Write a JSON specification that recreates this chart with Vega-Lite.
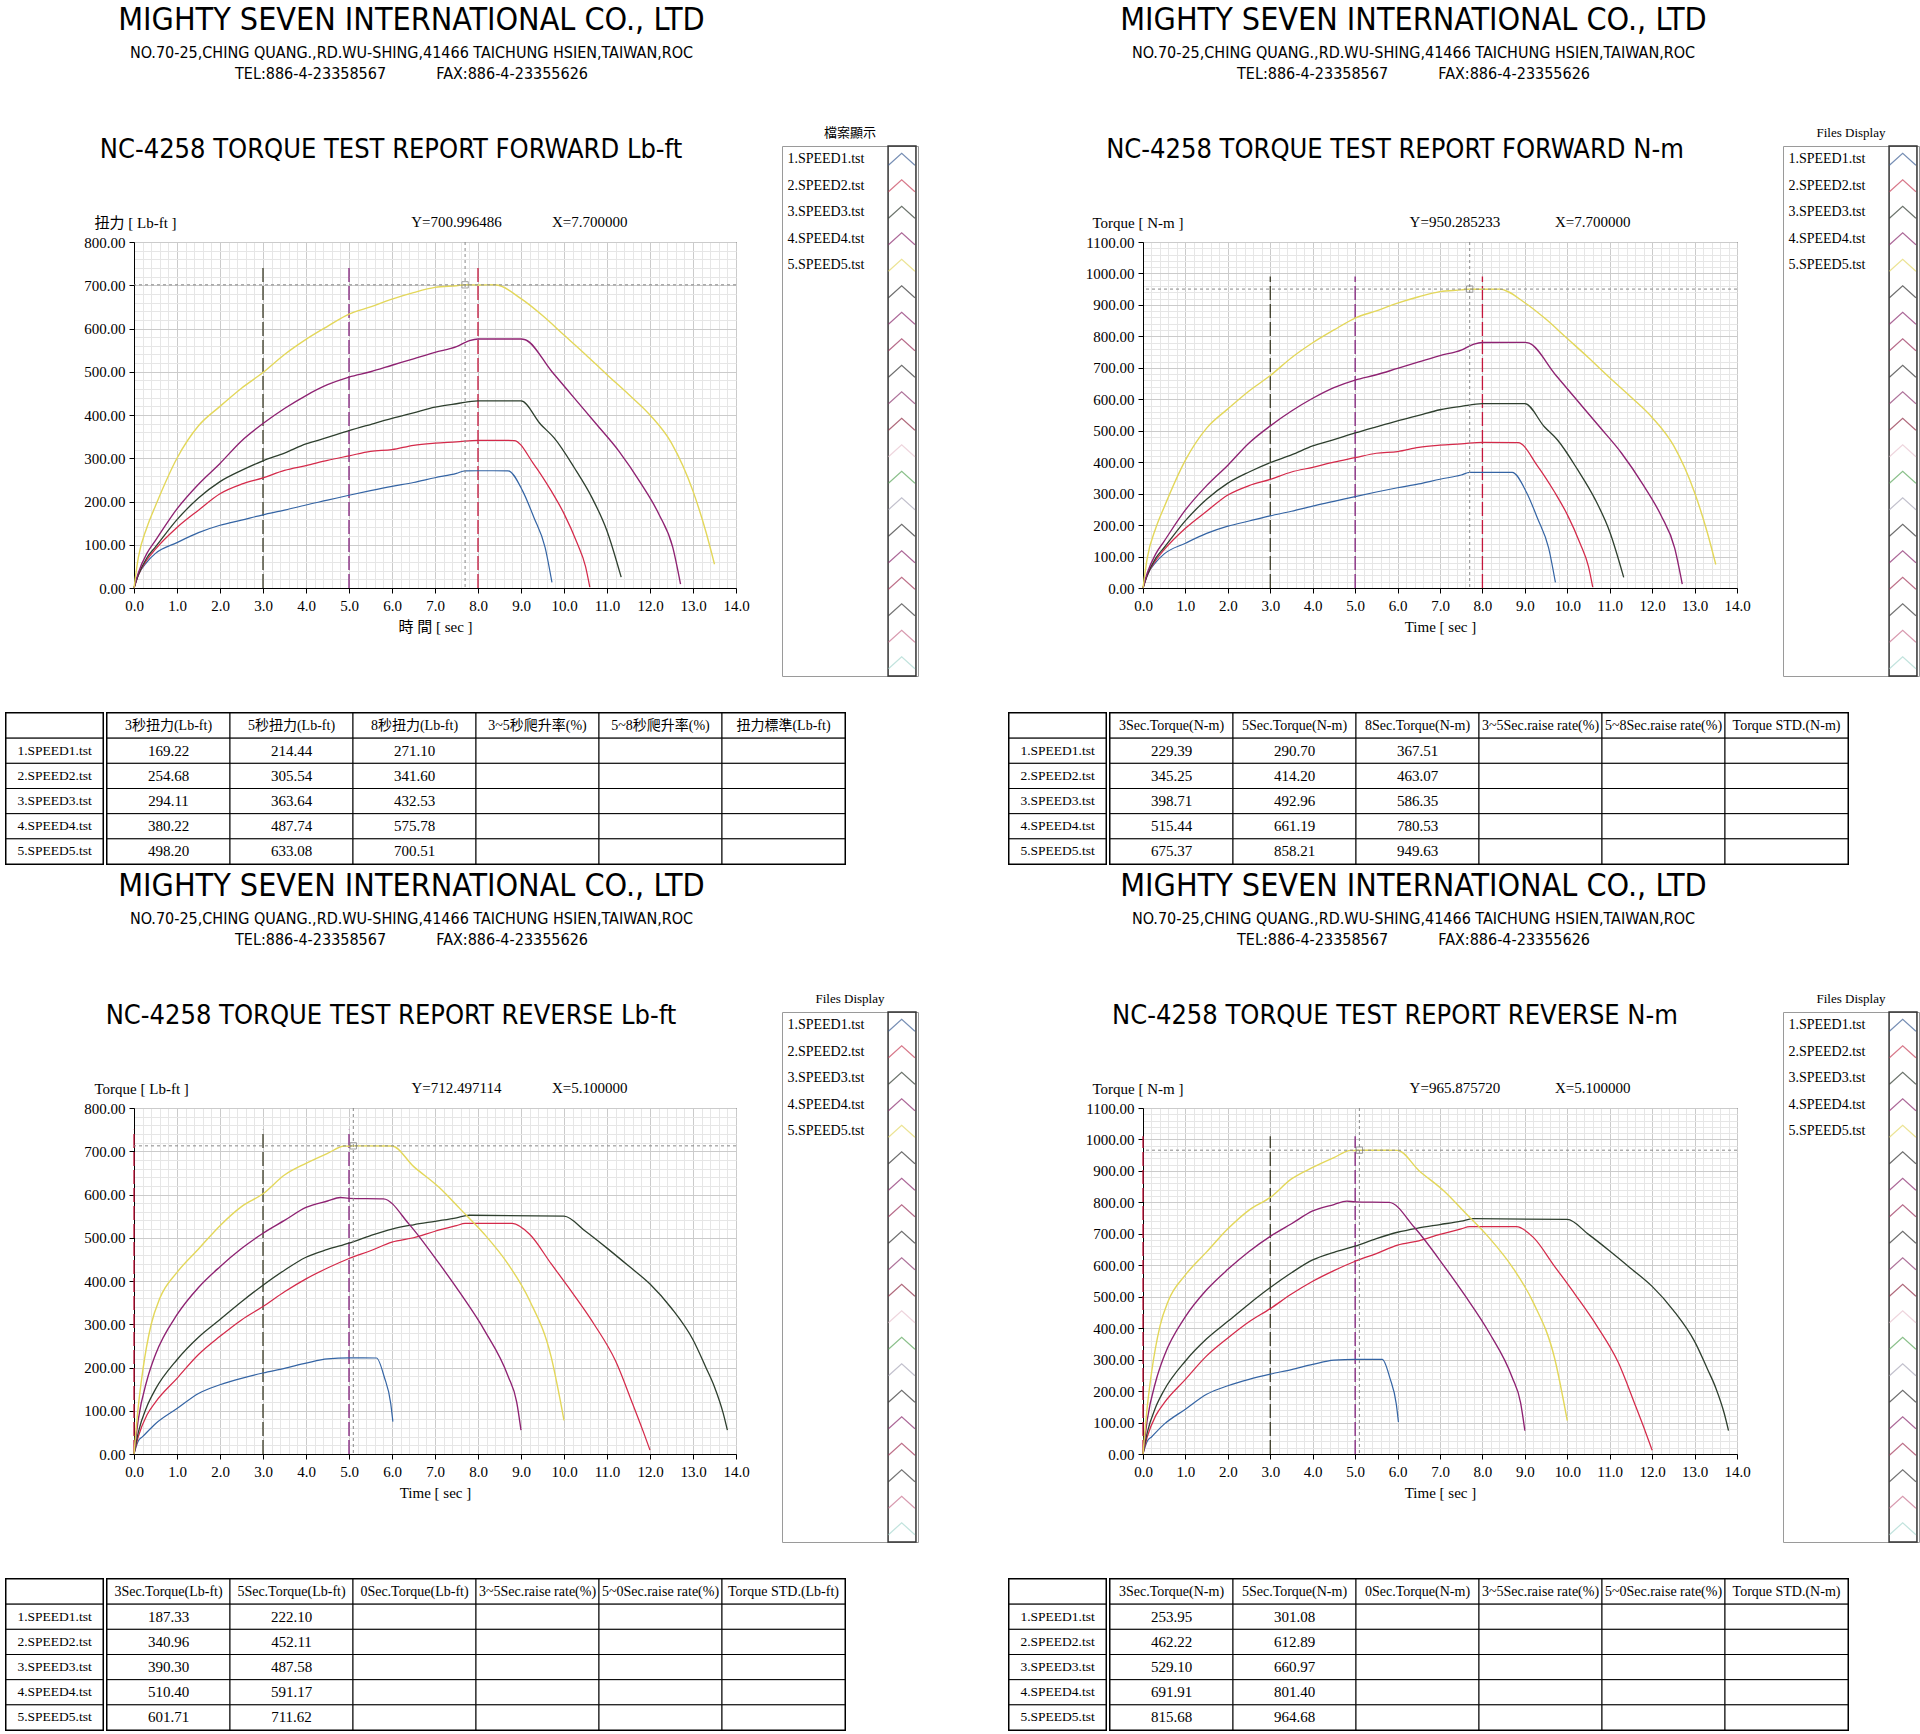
{
"$schema": "https://vega.github.io/schema/vega-lite/v6.json",
"background": "white",
"padding": {"left": 4, "top": 3, "right": 0, "bottom": 0},
"config": {
 "view": {"stroke": "#000", "strokeWidth": 1},
 "font": "Liberation Sans Narrow, DejaVu Sans Condensed, Liberation Sans, sans-serif",
 "axis": {"labelFont": "Liberation Serif", "titleFont": "Liberation Serif, Noto Sans CJK TC, serif", "labelColor": "#000", "titleColor": "#000", "domainColor": "#000", "tickColor": "#000", "titleFontWeight": "normal", "labelFlush": false, "labelOverlap": false},
 "title": {"color": "#000", "subtitleColor": "#000", "fontWeight": "normal"}
},
"datasets": {
 "fl": [
  {"s":"1","t":0,"v":0},{"s":"1","t":0.1,"v":30},{"s":"1","t":0.3,"v":60},{"s":"1","t":0.5,"v":80},{"s":"1","t":1,"v":105},{"s":"1","t":1.5,"v":128},{"s":"1","t":2,"v":145},{"s":"1","t":2.5,"v":157},{"s":"1","t":3,"v":169.22},{"s":"1","t":3.5,"v":180},{"s":"1","t":4,"v":192},{"s":"1","t":4.5,"v":203},{"s":"1","t":5,"v":214.44},{"s":"1","t":5.5,"v":225},{"s":"1","t":6,"v":235},{"s":"1","t":6.5,"v":244},{"s":"1","t":7,"v":255},{"s":"1","t":7.5,"v":265},{"s":"1","t":7.7,"v":271},{"s":"1","t":8,"v":271.1},{"s":"1","t":8.7,"v":271},{"s":"1","t":9.04,"v":224},{"s":"1","t":9.3,"v":163},{"s":"1","t":9.56,"v":94},{"s":"1","t":9.72,"v":13},
  {"s":"2","t":0,"v":0},{"s":"2","t":0.1,"v":30},{"s":"2","t":0.3,"v":65},{"s":"2","t":0.5,"v":90},{"s":"2","t":1,"v":140},{"s":"2","t":1.5,"v":180},{"s":"2","t":2,"v":218},{"s":"2","t":2.5,"v":240},{"s":"2","t":3,"v":254.68},{"s":"2","t":3.5,"v":272},{"s":"2","t":4,"v":283},{"s":"2","t":4.5,"v":295},{"s":"2","t":5,"v":305.54},{"s":"2","t":5.5,"v":316},{"s":"2","t":6,"v":320},{"s":"2","t":6.5,"v":330},{"s":"2","t":7,"v":335},{"s":"2","t":7.5,"v":338},{"s":"2","t":8,"v":341.6},{"s":"2","t":8.84,"v":341},{"s":"2","t":9.3,"v":286},{"s":"2","t":9.7,"v":225},{"s":"2","t":10,"v":172},{"s":"2","t":10.3,"v":105},{"s":"2","t":10.5,"v":50},{"s":"2","t":10.6,"v":2},
  {"s":"3","t":0,"v":0},{"s":"3","t":0.1,"v":30},{"s":"3","t":0.3,"v":70},{"s":"3","t":0.5,"v":95},{"s":"3","t":1,"v":158},{"s":"3","t":1.5,"v":208},{"s":"3","t":2,"v":246},{"s":"3","t":2.5,"v":272},{"s":"3","t":3,"v":294.11},{"s":"3","t":3.5,"v":312},{"s":"3","t":4,"v":333},{"s":"3","t":4.5,"v":348},{"s":"3","t":5,"v":363.64},{"s":"3","t":5.5,"v":378},{"s":"3","t":6,"v":392},{"s":"3","t":6.5,"v":405},{"s":"3","t":7,"v":418},{"s":"3","t":7.5,"v":426},{"s":"3","t":8,"v":432.53},{"s":"3","t":9,"v":432.5},{"s":"3","t":9.46,"v":378},{"s":"3","t":9.77,"v":347},{"s":"3","t":10.24,"v":278},{"s":"3","t":10.65,"v":209},{"s":"3","t":11,"v":132},{"s":"3","t":11.33,"v":25},
  {"s":"4","t":0,"v":0},{"s":"4","t":0.1,"v":35},{"s":"4","t":0.3,"v":80},{"s":"4","t":0.5,"v":110},{"s":"4","t":1,"v":183},{"s":"4","t":1.5,"v":240},{"s":"4","t":2,"v":288},{"s":"4","t":2.5,"v":340},{"s":"4","t":3,"v":380.22},{"s":"4","t":3.5,"v":415},{"s":"4","t":4,"v":445},{"s":"4","t":4.5,"v":470},{"s":"4","t":5,"v":487.74},{"s":"4","t":5.5,"v":500},{"s":"4","t":6,"v":515},{"s":"4","t":6.5,"v":530},{"s":"4","t":7,"v":545},{"s":"4","t":7.5,"v":558},{"s":"4","t":7.8,"v":572},{"s":"4","t":8,"v":575.78},{"s":"4","t":9,"v":575.8},{"s":"4","t":9.1,"v":574},{"s":"4","t":9.72,"v":500},{"s":"4","t":10.24,"v":439},{"s":"4","t":10.76,"v":378},{"s":"4","t":11.28,"v":316},{"s":"4","t":11.8,"v":240},{"s":"4","t":12.21,"v":170},{"s":"4","t":12.53,"v":94},{"s":"4","t":12.71,"v":9},
  {"s":"5","t":0,"v":0},{"s":"5","t":0.1,"v":70},{"s":"5","t":0.3,"v":140},{"s":"5","t":0.5,"v":190},{"s":"5","t":1,"v":300},{"s":"5","t":1.5,"v":375},{"s":"5","t":2,"v":420},{"s":"5","t":2.5,"v":462},{"s":"5","t":3,"v":498.2},{"s":"5","t":3.5,"v":540},{"s":"5","t":4,"v":575},{"s":"5","t":4.5,"v":605},{"s":"5","t":5,"v":633.08},{"s":"5","t":5.5,"v":650},{"s":"5","t":6,"v":668},{"s":"5","t":6.5,"v":683},{"s":"5","t":7,"v":695},{"s":"5","t":7.5,"v":699},{"s":"5","t":7.7,"v":701},{"s":"5","t":8,"v":700.51},{"s":"5","t":8.4,"v":701},{"s":"5","t":9,"v":669},{"s":"5","t":9.5,"v":630},{"s":"5","t":10,"v":585},{"s":"5","t":10.5,"v":540},{"s":"5","t":11,"v":493},{"s":"5","t":11.5,"v":448},{"s":"5","t":12,"v":400},{"s":"5","t":12.5,"v":335},{"s":"5","t":13,"v":224},{"s":"5","t":13.3,"v":130},{"s":"5","t":13.5,"v":55}
 ],
 "fn": [
  {"s":"1","t":0,"v":0},{"s":"1","t":0.1,"v":40.7},{"s":"1","t":0.3,"v":81.3},{"s":"1","t":0.5,"v":108.5},{"s":"1","t":1,"v":142.4},{"s":"1","t":1.5,"v":173.5},{"s":"1","t":2,"v":196.6},{"s":"1","t":2.5,"v":212.9},{"s":"1","t":3,"v":229.39},{"s":"1","t":3.5,"v":244},{"s":"1","t":4,"v":260.3},{"s":"1","t":4.5,"v":275.2},{"s":"1","t":5,"v":290.7},{"s":"1","t":5.5,"v":305.1},{"s":"1","t":6,"v":318.6},{"s":"1","t":6.5,"v":330.8},{"s":"1","t":7,"v":345.7},{"s":"1","t":7.5,"v":359.3},{"s":"1","t":7.7,"v":367.4},{"s":"1","t":8,"v":367.51},{"s":"1","t":8.7,"v":367.4},{"s":"1","t":9.04,"v":303.7},{"s":"1","t":9.3,"v":221},{"s":"1","t":9.56,"v":127.4},{"s":"1","t":9.72,"v":17.6},
  {"s":"2","t":0,"v":0},{"s":"2","t":0.1,"v":40.7},{"s":"2","t":0.3,"v":88.1},{"s":"2","t":0.5,"v":122},{"s":"2","t":1,"v":189.8},{"s":"2","t":1.5,"v":244},{"s":"2","t":2,"v":295.6},{"s":"2","t":2.5,"v":325.4},{"s":"2","t":3,"v":345.25},{"s":"2","t":3.5,"v":368.8},{"s":"2","t":4,"v":383.7},{"s":"2","t":4.5,"v":400},{"s":"2","t":5,"v":414.2},{"s":"2","t":5.5,"v":428.4},{"s":"2","t":6,"v":433.9},{"s":"2","t":6.5,"v":447.4},{"s":"2","t":7,"v":454.2},{"s":"2","t":7.5,"v":458.3},{"s":"2","t":8,"v":463.07},{"s":"2","t":8.84,"v":462.3},{"s":"2","t":9.3,"v":387.8},{"s":"2","t":9.7,"v":305.1},{"s":"2","t":10,"v":233.2},{"s":"2","t":10.3,"v":142.4},{"s":"2","t":10.5,"v":67.8},{"s":"2","t":10.6,"v":2.7},
  {"s":"3","t":0,"v":0},{"s":"3","t":0.1,"v":40.7},{"s":"3","t":0.3,"v":94.9},{"s":"3","t":0.5,"v":128.8},{"s":"3","t":1,"v":214.2},{"s":"3","t":1.5,"v":282},{"s":"3","t":2,"v":333.5},{"s":"3","t":2.5,"v":368.8},{"s":"3","t":3,"v":398.71},{"s":"3","t":3.5,"v":423},{"s":"3","t":4,"v":451.5},{"s":"3","t":4.5,"v":471.8},{"s":"3","t":5,"v":492.96},{"s":"3","t":5.5,"v":512.5},{"s":"3","t":6,"v":531.5},{"s":"3","t":6.5,"v":549.1},{"s":"3","t":7,"v":566.7},{"s":"3","t":7.5,"v":577.6},{"s":"3","t":8,"v":586.35},{"s":"3","t":9,"v":586.4},{"s":"3","t":9.46,"v":512.5},{"s":"3","t":9.77,"v":470.5},{"s":"3","t":10.24,"v":376.9},{"s":"3","t":10.65,"v":283.4},{"s":"3","t":11,"v":179},{"s":"3","t":11.33,"v":33.9},
  {"s":"4","t":0,"v":0},{"s":"4","t":0.1,"v":47.5},{"s":"4","t":0.3,"v":108.5},{"s":"4","t":0.5,"v":149.1},{"s":"4","t":1,"v":248.1},{"s":"4","t":1.5,"v":325.4},{"s":"4","t":2,"v":390.5},{"s":"4","t":2.5,"v":461},{"s":"4","t":3,"v":515.44},{"s":"4","t":3.5,"v":562.7},{"s":"4","t":4,"v":603.3},{"s":"4","t":4.5,"v":637.2},{"s":"4","t":5,"v":661.19},{"s":"4","t":5.5,"v":677.9},{"s":"4","t":6,"v":698.2},{"s":"4","t":6.5,"v":718.6},{"s":"4","t":7,"v":738.9},{"s":"4","t":7.5,"v":756.5},{"s":"4","t":7.8,"v":775.5},{"s":"4","t":8,"v":780.53},{"s":"4","t":9,"v":780.7},{"s":"4","t":9.1,"v":778.2},{"s":"4","t":9.72,"v":677.9},{"s":"4","t":10.24,"v":595.2},{"s":"4","t":10.76,"v":512.5},{"s":"4","t":11.28,"v":428.4},{"s":"4","t":11.8,"v":325.4},{"s":"4","t":12.21,"v":230.5},{"s":"4","t":12.53,"v":127.4},{"s":"4","t":12.71,"v":12.2},
  {"s":"5","t":0,"v":0},{"s":"5","t":0.1,"v":94.9},{"s":"5","t":0.3,"v":189.8},{"s":"5","t":0.5,"v":257.6},{"s":"5","t":1,"v":406.7},{"s":"5","t":1.5,"v":508.4},{"s":"5","t":2,"v":569.4},{"s":"5","t":2.5,"v":626.4},{"s":"5","t":3,"v":675.37},{"s":"5","t":3.5,"v":732.1},{"s":"5","t":4,"v":779.6},{"s":"5","t":4.5,"v":820.3},{"s":"5","t":5,"v":858.21},{"s":"5","t":5.5,"v":881.3},{"s":"5","t":6,"v":905.7},{"s":"5","t":6.5,"v":926},{"s":"5","t":7,"v":942.3},{"s":"5","t":7.5,"v":947.7},{"s":"5","t":7.7,"v":950.3},{"s":"5","t":8,"v":949.63},{"s":"5","t":8.4,"v":950.3},{"s":"5","t":9,"v":907},{"s":"5","t":9.5,"v":854.2},{"s":"5","t":10,"v":793.1},{"s":"5","t":10.5,"v":732.1},{"s":"5","t":11,"v":668.4},{"s":"5","t":11.5,"v":607.4},{"s":"5","t":12,"v":542.3},{"s":"5","t":12.5,"v":454.2},{"s":"5","t":13,"v":303.7},{"s":"5","t":13.3,"v":176.3},{"s":"5","t":13.5,"v":74.6}
 ],
 "rl": [
  {"s":"1","t":0,"v":0},{"s":"1","t":0.1,"v":30},{"s":"1","t":0.2,"v":40},{"s":"1","t":0.5,"v":70},{"s":"1","t":1,"v":105},{"s":"1","t":1.5,"v":140},{"s":"1","t":2,"v":160},{"s":"1","t":2.5,"v":175},{"s":"1","t":3,"v":187.33},{"s":"1","t":3.5,"v":198},{"s":"1","t":4,"v":210},{"s":"1","t":4.5,"v":220},{"s":"1","t":5,"v":222.1},{"s":"1","t":5.64,"v":222},{"s":"1","t":5.82,"v":178},{"s":"1","t":5.97,"v":117},{"s":"1","t":6.02,"v":75},
  {"s":"2","t":0,"v":0},{"s":"2","t":0.1,"v":40},{"s":"2","t":0.3,"v":90},{"s":"2","t":0.5,"v":120},{"s":"2","t":1,"v":175},{"s":"2","t":1.5,"v":230},{"s":"2","t":2,"v":272},{"s":"2","t":2.5,"v":310},{"s":"2","t":3,"v":340.96},{"s":"2","t":3.5,"v":375},{"s":"2","t":4,"v":405},{"s":"2","t":4.5,"v":430},{"s":"2","t":5,"v":452.11},{"s":"2","t":5.5,"v":470},{"s":"2","t":6,"v":490},{"s":"2","t":6.5,"v":500},{"s":"2","t":7,"v":515},{"s":"2","t":7.5,"v":528},{"s":"2","t":7.7,"v":533},{"s":"2","t":8.8,"v":533},{"s":"2","t":9.2,"v":508},{"s":"2","t":9.7,"v":440},{"s":"2","t":10.2,"v":372},{"s":"2","t":10.7,"v":300},{"s":"2","t":11.2,"v":215},{"s":"2","t":11.6,"v":115},{"s":"2","t":11.85,"v":50},{"s":"2","t":12,"v":9},
  {"s":"3","t":0,"v":0},{"s":"3","t":0.1,"v":50},{"s":"3","t":0.3,"v":110},{"s":"3","t":0.5,"v":150},{"s":"3","t":1,"v":218},{"s":"3","t":1.5,"v":270},{"s":"3","t":2,"v":311},{"s":"3","t":2.5,"v":352},{"s":"3","t":3,"v":390.3},{"s":"3","t":3.5,"v":425},{"s":"3","t":4,"v":455},{"s":"3","t":4.5,"v":473},{"s":"3","t":5,"v":487.58},{"s":"3","t":5.5,"v":505},{"s":"3","t":6,"v":520},{"s":"3","t":6.5,"v":530},{"s":"3","t":7,"v":538},{"s":"3","t":7.5,"v":546},{"s":"3","t":7.8,"v":552},{"s":"3","t":10,"v":550},{"s":"3","t":10.5,"v":515},{"s":"3","t":11,"v":476},{"s":"3","t":11.5,"v":435},{"s":"3","t":12,"v":393},{"s":"3","t":12.5,"v":337},{"s":"3","t":13,"v":264},{"s":"3","t":13.3,"v":200},{"s":"3","t":13.5,"v":155},{"s":"3","t":13.7,"v":95},{"s":"3","t":13.8,"v":55},
  {"s":"4","t":0,"v":0},{"s":"4","t":0.1,"v":80},{"s":"4","t":0.3,"v":170},{"s":"4","t":0.5,"v":230},{"s":"4","t":1,"v":322},{"s":"4","t":1.5,"v":385},{"s":"4","t":2,"v":433},{"s":"4","t":2.5,"v":475},{"s":"4","t":3,"v":510.4},{"s":"4","t":3.5,"v":540},{"s":"4","t":4,"v":570},{"s":"4","t":4.5,"v":585},{"s":"4","t":4.8,"v":593},{"s":"4","t":5,"v":591.17},{"s":"4","t":5.8,"v":590},{"s":"4","t":6.4,"v":531},{"s":"4","t":7.1,"v":440},{"s":"4","t":7.6,"v":370},{"s":"4","t":8.15,"v":286},{"s":"4","t":8.7,"v":180},{"s":"4","t":8.9,"v":120},{"s":"4","t":9,"v":55},
  {"s":"5","t":0,"v":0},{"s":"5","t":0.1,"v":110},{"s":"5","t":0.2,"v":190},{"s":"5","t":0.4,"v":300},{"s":"5","t":0.6,"v":360},{"s":"5","t":1,"v":420},{"s":"5","t":1.5,"v":474},{"s":"5","t":2,"v":528},{"s":"5","t":2.5,"v":572},{"s":"5","t":3,"v":601.71},{"s":"5","t":3.5,"v":645},{"s":"5","t":4,"v":672},{"s":"5","t":4.5,"v":695},{"s":"5","t":4.9,"v":712},{"s":"5","t":5,"v":711.62},{"s":"5","t":5.1,"v":712.5},{"s":"5","t":6,"v":712},{"s":"5","t":6.5,"v":665},{"s":"5","t":7.1,"v":616},{"s":"5","t":7.6,"v":565},{"s":"5","t":8.15,"v":508},{"s":"5","t":8.7,"v":439},{"s":"5","t":9.2,"v":355},{"s":"5","t":9.7,"v":225},{"s":"5","t":10,"v":78}
 ],
 "rn": [
  {"s":"1","t":0,"v":0},{"s":"1","t":0.1,"v":40.7},{"s":"1","t":0.2,"v":54.2},{"s":"1","t":0.5,"v":94.9},{"s":"1","t":1,"v":142.4},{"s":"1","t":1.5,"v":189.8},{"s":"1","t":2,"v":216.9},{"s":"1","t":2.5,"v":237.3},{"s":"1","t":3,"v":253.95},{"s":"1","t":3.5,"v":268.4},{"s":"1","t":4,"v":284.7},{"s":"1","t":4.5,"v":298.3},{"s":"1","t":5,"v":301.08},{"s":"1","t":5.64,"v":301},{"s":"1","t":5.82,"v":241.3},{"s":"1","t":5.97,"v":158.6},{"s":"1","t":6.02,"v":101.7},
  {"s":"2","t":0,"v":0},{"s":"2","t":0.1,"v":54.2},{"s":"2","t":0.3,"v":122},{"s":"2","t":0.5,"v":162.7},{"s":"2","t":1,"v":237.3},{"s":"2","t":1.5,"v":311.8},{"s":"2","t":2,"v":368.8},{"s":"2","t":2.5,"v":420.3},{"s":"2","t":3,"v":462.22},{"s":"2","t":3.5,"v":508.4},{"s":"2","t":4,"v":549.1},{"s":"2","t":4.5,"v":583},{"s":"2","t":5,"v":612.89},{"s":"2","t":5.5,"v":637.2},{"s":"2","t":6,"v":664.3},{"s":"2","t":6.5,"v":677.9},{"s":"2","t":7,"v":698.2},{"s":"2","t":7.5,"v":715.9},{"s":"2","t":7.7,"v":722.6},{"s":"2","t":8.8,"v":722.6},{"s":"2","t":9.2,"v":688.7},{"s":"2","t":9.7,"v":596.6},{"s":"2","t":10.2,"v":504.4},{"s":"2","t":10.7,"v":406.7},{"s":"2","t":11.2,"v":291.5},{"s":"2","t":11.6,"v":155.9},{"s":"2","t":11.85,"v":67.8},{"s":"2","t":12,"v":12.2},
  {"s":"3","t":0,"v":0},{"s":"3","t":0.1,"v":67.8},{"s":"3","t":0.3,"v":149.1},{"s":"3","t":0.5,"v":203.4},{"s":"3","t":1,"v":295.6},{"s":"3","t":1.5,"v":366.1},{"s":"3","t":2,"v":421.7},{"s":"3","t":2.5,"v":477.2},{"s":"3","t":3,"v":529.1},{"s":"3","t":3.5,"v":576.2},{"s":"3","t":4,"v":616.9},{"s":"3","t":4.5,"v":641.3},{"s":"3","t":5,"v":660.97},{"s":"3","t":5.5,"v":684.7},{"s":"3","t":6,"v":705},{"s":"3","t":6.5,"v":718.6},{"s":"3","t":7,"v":729.4},{"s":"3","t":7.5,"v":740.3},{"s":"3","t":7.8,"v":748.4},{"s":"3","t":10,"v":745.7},{"s":"3","t":10.5,"v":698.2},{"s":"3","t":11,"v":645.4},{"s":"3","t":11.5,"v":589.8},{"s":"3","t":12,"v":532.8},{"s":"3","t":12.5,"v":456.9},{"s":"3","t":13,"v":357.9},{"s":"3","t":13.3,"v":271.2},{"s":"3","t":13.5,"v":210.1},{"s":"3","t":13.7,"v":128.8},{"s":"3","t":13.8,"v":74.6},
  {"s":"4","t":0,"v":0},{"s":"4","t":0.1,"v":108.5},{"s":"4","t":0.3,"v":230.5},{"s":"4","t":0.5,"v":311.8},{"s":"4","t":1,"v":436.6},{"s":"4","t":1.5,"v":522},{"s":"4","t":2,"v":587.1},{"s":"4","t":2.5,"v":644},{"s":"4","t":3,"v":691.91},{"s":"4","t":3.5,"v":732.1},{"s":"4","t":4,"v":772.8},{"s":"4","t":4.5,"v":793.1},{"s":"4","t":4.8,"v":804},{"s":"4","t":5,"v":801.4},{"s":"4","t":5.8,"v":799.9},{"s":"4","t":6.4,"v":719.9},{"s":"4","t":7.1,"v":596.6},{"s":"4","t":7.6,"v":501.6},{"s":"4","t":8.15,"v":387.8},{"s":"4","t":8.7,"v":244},{"s":"4","t":8.9,"v":162.7},{"s":"4","t":9,"v":74.6},
  {"s":"5","t":0,"v":0},{"s":"5","t":0.1,"v":149.1},{"s":"5","t":0.2,"v":257.6},{"s":"5","t":0.4,"v":406.7},{"s":"5","t":0.6,"v":488.1},{"s":"5","t":1,"v":569.4},{"s":"5","t":1.5,"v":642.6},{"s":"5","t":2,"v":715.9},{"s":"5","t":2.5,"v":775.5},{"s":"5","t":3,"v":815.68},{"s":"5","t":3.5,"v":874.5},{"s":"5","t":4,"v":911.1},{"s":"5","t":4.5,"v":942.3},{"s":"5","t":4.9,"v":965.3},{"s":"5","t":5,"v":964.68},{"s":"5","t":5.1,"v":965.88},{"s":"5","t":6,"v":965.3},{"s":"5","t":6.5,"v":901.6},{"s":"5","t":7.1,"v":835.2},{"s":"5","t":7.6,"v":766},{"s":"5","t":8.15,"v":688.7},{"s":"5","t":8.7,"v":595.2},{"s":"5","t":9.2,"v":481.3},{"s":"5","t":9.7,"v":305.1},{"s":"5","t":10,"v":105.8}
 ],
 "mkf": [{"t":3,"m":"a"},{"t":5,"m":"b"},{"t":8,"m":"c"}],
 "mkr": [{"t":0,"m":"c"},{"t":3,"m":"a"},{"t":5,"m":"b"}],
 "legend": [
  {"i":1,"lab":"1.SPEED1.tst"},{"i":2,"lab":"2.SPEED2.tst"},{"i":3,"lab":"3.SPEED3.tst"},{"i":4,"lab":"4.SPEED4.tst"},{"i":5,"lab":"5.SPEED5.tst"},
  {"i":6,"lab":""},{"i":7,"lab":""},{"i":8,"lab":""},{"i":9,"lab":""},{"i":10,"lab":""},{"i":11,"lab":""},{"i":12,"lab":""},{"i":13,"lab":""},{"i":14,"lab":""},{"i":15,"lab":""},{"i":16,"lab":""},{"i":17,"lab":""},{"i":18,"lab":""},{"i":19,"lab":""},{"i":20,"lab":""}
 ],
 "tfl": [
  {"r":" ","c1":"3秒扭力(Lb-ft)","c2":"5秒扭力(Lb-ft)","c3":"8秒扭力(Lb-ft)","c4":"3~5秒爬升率(%)","c5":"5~8秒爬升率(%)","c6":"扭力標準(Lb-ft)"},
  {"r":"1.SPEED1.tst","c1":"169.22","c2":"214.44","c3":"271.10","c4":"","c5":"","c6":""},
  {"r":"2.SPEED2.tst","c1":"254.68","c2":"305.54","c3":"341.60","c4":"","c5":"","c6":""},
  {"r":"3.SPEED3.tst","c1":"294.11","c2":"363.64","c3":"432.53","c4":"","c5":"","c6":""},
  {"r":"4.SPEED4.tst","c1":"380.22","c2":"487.74","c3":"575.78","c4":"","c5":"","c6":""},
  {"r":"5.SPEED5.tst","c1":"498.20","c2":"633.08","c3":"700.51","c4":"","c5":"","c6":""}
 ],
 "tfn": [
  {"r":" ","c1":"3Sec.Torque(N-m)","c2":"5Sec.Torque(N-m)","c3":"8Sec.Torque(N-m)","c4":"3~5Sec.raise rate(%)","c5":"5~8Sec.raise rate(%)","c6":"Torque STD.(N-m)"},
  {"r":"1.SPEED1.tst","c1":"229.39","c2":"290.70","c3":"367.51","c4":"","c5":"","c6":""},
  {"r":"2.SPEED2.tst","c1":"345.25","c2":"414.20","c3":"463.07","c4":"","c5":"","c6":""},
  {"r":"3.SPEED3.tst","c1":"398.71","c2":"492.96","c3":"586.35","c4":"","c5":"","c6":""},
  {"r":"4.SPEED4.tst","c1":"515.44","c2":"661.19","c3":"780.53","c4":"","c5":"","c6":""},
  {"r":"5.SPEED5.tst","c1":"675.37","c2":"858.21","c3":"949.63","c4":"","c5":"","c6":""}
 ],
 "trl": [
  {"r":" ","c1":"3Sec.Torque(Lb-ft)","c2":"5Sec.Torque(Lb-ft)","c3":"0Sec.Torque(Lb-ft)","c4":"3~5Sec.raise rate(%)","c5":"5~0Sec.raise rate(%)","c6":"Torque STD.(Lb-ft)"},
  {"r":"1.SPEED1.tst","c1":"187.33","c2":"222.10","c3":"","c4":"","c5":"","c6":""},
  {"r":"2.SPEED2.tst","c1":"340.96","c2":"452.11","c3":"","c4":"","c5":"","c6":""},
  {"r":"3.SPEED3.tst","c1":"390.30","c2":"487.58","c3":"","c4":"","c5":"","c6":""},
  {"r":"4.SPEED4.tst","c1":"510.40","c2":"591.17","c3":"","c4":"","c5":"","c6":""},
  {"r":"5.SPEED5.tst","c1":"601.71","c2":"711.62","c3":"","c4":"","c5":"","c6":""}
 ],
 "trn": [
  {"r":" ","c1":"3Sec.Torque(N-m)","c2":"5Sec.Torque(N-m)","c3":"0Sec.Torque(N-m)","c4":"3~5Sec.raise rate(%)","c5":"5~0Sec.raise rate(%)","c6":"Torque STD.(N-m)"},
  {"r":"1.SPEED1.tst","c1":"253.95","c2":"301.08","c3":"","c4":"","c5":"","c6":""},
  {"r":"2.SPEED2.tst","c1":"462.22","c2":"612.89","c3":"","c4":"","c5":"","c6":""},
  {"r":"3.SPEED3.tst","c1":"529.10","c2":"660.97","c3":"","c4":"","c5":"","c6":""},
  {"r":"4.SPEED4.tst","c1":"691.91","c2":"801.40","c3":"","c4":"","c5":"","c6":""},
  {"r":"5.SPEED5.tst","c1":"815.68","c2":"964.68","c3":"","c4":"","c5":"","c6":""}
 ]
},
"spacing": 3,
"vconcat": [
 {"hconcat": [
  {"title": {"text": "MIGHTY SEVEN INTERNATIONAL CO., LTD", "subtitle": ["NO.70-25,CHING QUANG.,RD.WU-SHING,41466 TAICHUNG HSIEN,TAIWAN,ROC", "TEL:886-4-23358567\u00a0\u00a0\u00a0\u00a0\u00a0\u00a0\u00a0\u00a0\u00a0\u00a0\u00a0FAX:886-4-23355626"], "anchor": "middle", "frame": "bounds", "dx": -50, "fontSize": 32, "subtitleFontSize": 16, "subtitlePadding": 8, "subtitleLineHeight": 21, "offset": 44},
   "spacing": 33,
   "vconcat": [
    {"spacing": 31, "hconcat": [
     {"width": 46, "height": 20, "data": {"values": [{}]}, "mark": {"type": "text", "text": ""}, "view": {"stroke": null}},
     {"spacing": 51, "vconcat": [
      {"width": 514, "height": 8, "view": {"stroke": null}, "data": {"values": [{"ttl": "NC-4258 TORQUE TEST REPORT FORWARD Lb-ft"}]}, "mark": {"type": "text", "fontSize": 27, "baseline": "middle", "color": "#000"}, "encoding": {"text": {"field": "ttl"}}},
      {"width": 602, "height": 346,
      "resolve": {"axis": {"x": "independent", "y": "independent"}, "scale": {"color": "independent", "size": "independent"}},
      "layer": [
       {"data": {"name": "fl"}, "mark": {"type": "line", "opacity": 0},
        "encoding": {
         "x": {"field": "t", "type": "quantitative", "scale": {"domain": [0, 14], "nice": false}, "axis": {"orient": "top", "values": [0.2,0.4,0.6,0.8,1.2,1.4,1.6,1.8,2.2,2.4,2.6,2.8,3.2,3.4,3.6,3.8,4.2,4.4,4.6,4.8,5.2,5.4,5.6,5.8,6.2,6.4,6.6,6.8,7.2,7.4,7.6,7.8,8.2,8.4,8.6,8.8,9.2,9.4,9.6,9.8,10.2,10.4,10.6,10.8,11.2,11.4,11.6,11.8,12.2,12.4,12.6,12.8,13.2,13.4,13.6,13.8], "labels": false, "ticks": false, "domain": false, "title": null, "grid": true, "gridColor": "#e6e6e6"}},
         "y": {"field": "v", "type": "quantitative", "scale": {"domain": [0, 800], "nice": false}, "axis": {"orient": "right", "values": [20,40,60,80,120,140,160,180,220,240,260,280,320,340,360,380,420,440,460,480,520,540,560,580,620,640,660,680,720,740,760,780], "labels": false, "ticks": false, "domain": false, "title": null, "grid": true, "gridColor": "#e6e6e6"}},
         "detail": {"field": "s"}
        }},
       {"data": {"name": "mkf"}, "mark": {"type": "rule", "strokeDash": [14, 4], "strokeWidth": 1.3},
        "encoding": {
         "x": {"field": "t", "type": "quantitative", "axis": {"orient": "bottom", "values": [0,1,2,3,4,5,6,7,8,9,10,11,12,13,14], "format": ".1f", "labelFontSize": 15, "labelPadding": 5, "tickSize": 5, "grid": true, "gridColor": "#cbcbcb", "title": "時 間 [ sec ]", "titleFontSize": 15, "titlePadding": 6}},
         "y": {"datum": 0, "type": "quantitative", "axis": {"orient": "left", "values": [0,100,200,300,400,500,600,700,800], "format": ".2f", "labelFontSize": 15, "labelPadding": 4, "tickSize": 5, "grid": true, "gridColor": "#cbcbcb", "title": "扭力 [ Lb-ft ]", "titleAngle": 0, "titleAlign": "left", "titleBaseline": "middle", "titleX": -40, "titleY": -20, "titleFontSize": 15}},
         "y2": {"datum": 740},
         "color": {"field": "m", "type": "nominal", "scale": {"domain": ["a","b","c"], "range": ["#3c3c28","#82207c","#c4163c"]}, "legend": null}
        }},
       {"data": {"name": "fl"}, "mark": {"type": "line", "interpolate": "monotone"},
        "encoding": {
         "x": {"field": "t", "type": "quantitative", "axis": null},
         "y": {"field": "v", "type": "quantitative", "axis": null},
         "color": {"field": "s", "type": "nominal", "scale": {"domain": ["1","2","3","4","5"], "range": ["#3464a4","#d42a4a","#2e3f2e","#8e2272","#e3d75a"]}, "legend": null},
         "size": {"field": "s", "type": "nominal", "scale": {"domain": ["1","2","3","4","5"], "range": [1.2,1.4,1.2,1.3,2.4]}, "legend": null}
        }},
       {"data": {"values": [{"cx": 7.7, "cy": 700.996486, "ty": "Y=700.996486", "tx": "X=7.700000"}]},
        "layer": [
         {"mark": {"type": "rule", "strokeDash": [3, 3], "color": "#888", "strokeWidth": 1}, "encoding": {"x": {"field": "cx", "type": "quantitative", "axis": null}}},
         {"mark": {"type": "rule", "strokeDash": [3, 3], "color": "#888", "strokeWidth": 1}, "encoding": {"y": {"field": "cy", "type": "quantitative", "axis": null}}},
         {"mark": {"type": "point", "shape": "square", "size": 40, "filled": false, "color": "#777", "strokeWidth": 1}, "encoding": {"x": {"field": "cx", "type": "quantitative", "axis": null}, "y": {"field": "cy", "type": "quantitative", "axis": null}}},
         {"mark": {"type": "text", "font": "Liberation Serif", "fontSize": 15, "dy": -20, "color": "#000"}, "encoding": {"x": {"datum": 7.5, "axis": null}, "y": {"datum": 800, "axis": null}, "text": {"field": "ty"}}},
         {"mark": {"type": "text", "font": "Liberation Serif", "fontSize": 15, "dy": -20, "color": "#000"}, "encoding": {"x": {"datum": 10.6, "axis": null}, "y": {"datum": 800, "axis": null}, "text": {"field": "tx"}}}
        ]}
      ]}]},
     {"width": 136, "height": 530, "view": {"stroke": "#9a9a9a"},
      "title": {"text": "檔案顯示", "font": "Noto Sans CJK TC", "fontSize": 13, "offset": 5, "anchor": "middle"},
      "layer": [
       {"data": {"values": [{}]}, "mark": {"type": "rect", "fill": null, "stroke": "#333", "strokeWidth": 1.5}, "encoding": {"x": {"datum": 0.78, "type": "quantitative", "scale": {"domain": [0, 1]}, "axis": null}, "x2": {"datum": 0.985}}},
       {"data": {"name": "legend"}, "mark": {"type": "text", "align": "left", "font": "Liberation Serif", "fontSize": 14, "color": "#000"}, "encoding": {"x": {"datum": 0.04, "type": "quantitative", "axis": null}, "y": {"field": "i", "type": "ordinal", "axis": null}, "text": {"field": "lab"}}},
       {"data": {"name": "legend"}, "mark": {"type": "point", "shape": "M -1 0.45 L 0 -0.45 L 1 0.45", "filled": false, "size": 700, "strokeWidth": 1.2}, "encoding": {"x": {"datum": 0.88, "type": "quantitative", "axis": null}, "y": {"field": "i", "type": "ordinal", "axis": null}, "color": {"field": "i", "type": "nominal", "scale": {"range": ["#3d5f95","#c8415a","#2f3a2f","#8a2a6e","#e4d866","#333333","#8a2a6e","#9a2f5a","#333333","#8e3a72","#8f2b45","#e8c4d0","#5aa65a","#a9a7b8","#333333","#8a2a6e","#a33558","#3b3b3b","#c8708e","#a8d8d0"]}, "legend": null}}}
      ]}
    ]},
    {"spacing": 0, "hconcat": [
     {"width": 97, "height": 151, "data": {"name": "tfl"}, "view": {"stroke": "#000", "strokeWidth": 2},
      "layer": [
       {"mark": {"type": "rect", "fill": "#fff", "stroke": "#000", "strokeWidth": 1}, "encoding": {"y": {"field": "r", "type": "nominal", "sort": null, "axis": null, "scale": {"paddingInner": 0, "paddingOuter": 0}}}},
       {"mark": {"type": "text", "font": "Liberation Serif", "fontSize": 13.5, "color": "#000"}, "encoding": {"y": {"field": "r", "type": "nominal", "sort": null, "axis": null}, "text": {"field": "r"}}}
      ]},
     {"width": 738, "height": 151, "data": {"name": "tfl"}, "view": {"stroke": "#000", "strokeWidth": 2},
      "transform": [{"fold": ["c1","c2","c3","c4","c5","c6"]}],
      "layer": [
       {"mark": {"type": "rect", "fill": "#fff", "stroke": "#000", "strokeWidth": 1}, "encoding": {"x": {"field": "key", "type": "nominal", "sort": null, "axis": null, "scale": {"paddingInner": 0, "paddingOuter": 0}}, "y": {"field": "r", "type": "nominal", "sort": null, "axis": null, "scale": {"paddingInner": 0, "paddingOuter": 0}}}},
       {"mark": {"type": "text", "font": "Liberation Serif, Noto Sans CJK TC", "color": "#000"}, "encoding": {"x": {"field": "key", "type": "nominal", "sort": null, "axis": null}, "y": {"field": "r", "type": "nominal", "sort": null, "axis": null}, "text": {"field": "value"}, "size": {"condition": {"test": "datum.r === ' '", "value": 14}, "value": 15}}}
      ]}
    ]}
   ]},
  {"title": {"text": "MIGHTY SEVEN INTERNATIONAL CO., LTD", "subtitle": ["NO.70-25,CHING QUANG.,RD.WU-SHING,41466 TAICHUNG HSIEN,TAIWAN,ROC", "TEL:886-4-23358567\u00a0\u00a0\u00a0\u00a0\u00a0\u00a0\u00a0\u00a0\u00a0\u00a0\u00a0FAX:886-4-23355626"], "anchor": "middle", "frame": "bounds", "dx": -50, "fontSize": 32, "subtitleFontSize": 16, "subtitlePadding": 8, "subtitleLineHeight": 21, "offset": 44},
   "spacing": 33,
   "vconcat": [
    {"spacing": 31, "hconcat": [
     {"width": 44, "height": 20, "data": {"values": [{}]}, "mark": {"type": "text", "text": ""}, "view": {"stroke": null}},
     {"spacing": 51, "vconcat": [
      {"width": 504, "height": 8, "view": {"stroke": null}, "data": {"values": [{"ttl": "NC-4258 TORQUE TEST REPORT FORWARD N-m"}]}, "mark": {"type": "text", "fontSize": 27, "baseline": "middle", "color": "#000"}, "encoding": {"text": {"field": "ttl"}}},
      {"width": 594, "height": 346,
      "resolve": {"axis": {"x": "independent", "y": "independent"}, "scale": {"color": "independent", "size": "independent"}},
      "layer": [
       {"data": {"name": "fn"}, "mark": {"type": "line", "opacity": 0},
        "encoding": {
         "x": {"field": "t", "type": "quantitative", "scale": {"domain": [0, 14], "nice": false}, "axis": {"orient": "top", "values": [0.2,0.4,0.6,0.8,1.2,1.4,1.6,1.8,2.2,2.4,2.6,2.8,3.2,3.4,3.6,3.8,4.2,4.4,4.6,4.8,5.2,5.4,5.6,5.8,6.2,6.4,6.6,6.8,7.2,7.4,7.6,7.8,8.2,8.4,8.6,8.8,9.2,9.4,9.6,9.8,10.2,10.4,10.6,10.8,11.2,11.4,11.6,11.8,12.2,12.4,12.6,12.8,13.2,13.4,13.6,13.8], "labels": false, "ticks": false, "domain": false, "title": null, "grid": true, "gridColor": "#e6e6e6"}},
         "y": {"field": "v", "type": "quantitative", "scale": {"domain": [0, 1100], "nice": false}, "axis": {"orient": "right", "values": [20,40,60,80,120,140,160,180,220,240,260,280,320,340,360,380,420,440,460,480,520,540,560,580,620,640,660,680,720,740,760,780,820,840,860,880,920,940,960,980,1020,1040,1060,1080], "labels": false, "ticks": false, "domain": false, "title": null, "grid": true, "gridColor": "#e6e6e6"}},
         "detail": {"field": "s"}
        }},
       {"data": {"name": "mkf"}, "mark": {"type": "rule", "strokeDash": [14, 4], "strokeWidth": 1.3},
        "encoding": {
         "x": {"field": "t", "type": "quantitative", "axis": {"orient": "bottom", "values": [0,1,2,3,4,5,6,7,8,9,10,11,12,13,14], "format": ".1f", "labelFontSize": 15, "labelPadding": 5, "tickSize": 5, "grid": true, "gridColor": "#cbcbcb", "title": "Time [ sec ]", "titleFontSize": 15, "titlePadding": 6}},
         "y": {"datum": 0, "type": "quantitative", "axis": {"orient": "left", "values": [0,100,200,300,400,500,600,700,800,900,1000,1100], "format": ".2f", "labelFontSize": 15, "labelPadding": 4, "tickSize": 5, "grid": true, "gridColor": "#cbcbcb", "title": "Torque [ N-m  ]", "titleAngle": 0, "titleAlign": "left", "titleBaseline": "middle", "titleX": -51, "titleY": -20, "titleFontSize": 15}},
         "y2": {"datum": 990},
         "color": {"field": "m", "type": "nominal", "scale": {"domain": ["a","b","c"], "range": ["#3c3c28","#82207c","#c4163c"]}, "legend": null}
        }},
       {"data": {"name": "fn"}, "mark": {"type": "line", "interpolate": "monotone"},
        "encoding": {
         "x": {"field": "t", "type": "quantitative", "axis": null},
         "y": {"field": "v", "type": "quantitative", "axis": null},
         "color": {"field": "s", "type": "nominal", "scale": {"domain": ["1","2","3","4","5"], "range": ["#3464a4","#d42a4a","#2e3f2e","#8e2272","#e3d75a"]}, "legend": null},
         "size": {"field": "s", "type": "nominal", "scale": {"domain": ["1","2","3","4","5"], "range": [1.2,1.4,1.2,1.3,2.4]}, "legend": null}
        }},
       {"data": {"values": [{"cx": 7.7, "cy": 950.285233, "ty": "Y=950.285233", "tx": "X=7.700000"}]},
        "layer": [
         {"mark": {"type": "rule", "strokeDash": [3, 3], "color": "#888", "strokeWidth": 1}, "encoding": {"x": {"field": "cx", "type": "quantitative", "axis": null}}},
         {"mark": {"type": "rule", "strokeDash": [3, 3], "color": "#888", "strokeWidth": 1}, "encoding": {"y": {"field": "cy", "type": "quantitative", "axis": null}}},
         {"mark": {"type": "point", "shape": "square", "size": 40, "filled": false, "color": "#777", "strokeWidth": 1}, "encoding": {"x": {"field": "cx", "type": "quantitative", "axis": null}, "y": {"field": "cy", "type": "quantitative", "axis": null}}},
         {"mark": {"type": "text", "font": "Liberation Serif", "fontSize": 15, "dy": -20, "color": "#000"}, "encoding": {"x": {"datum": 7.35, "axis": null}, "y": {"datum": 1100, "axis": null}, "text": {"field": "ty"}}},
         {"mark": {"type": "text", "font": "Liberation Serif", "fontSize": 15, "dy": -20, "color": "#000"}, "encoding": {"x": {"datum": 10.6, "axis": null}, "y": {"datum": 1100, "axis": null}, "text": {"field": "tx"}}}
        ]}
      ]}]},
     {"width": 136, "height": 530, "view": {"stroke": "#9a9a9a"},
      "title": {"text": "Files Display", "font": "Liberation Serif", "fontSize": 13, "offset": 5, "anchor": "middle"},
      "layer": [
       {"data": {"values": [{}]}, "mark": {"type": "rect", "fill": null, "stroke": "#333", "strokeWidth": 1.5}, "encoding": {"x": {"datum": 0.78, "type": "quantitative", "scale": {"domain": [0, 1]}, "axis": null}, "x2": {"datum": 0.985}}},
       {"data": {"name": "legend"}, "mark": {"type": "text", "align": "left", "font": "Liberation Serif", "fontSize": 14, "color": "#000"}, "encoding": {"x": {"datum": 0.04, "type": "quantitative", "axis": null}, "y": {"field": "i", "type": "ordinal", "axis": null}, "text": {"field": "lab"}}},
       {"data": {"name": "legend"}, "mark": {"type": "point", "shape": "M -1 0.45 L 0 -0.45 L 1 0.45", "filled": false, "size": 700, "strokeWidth": 1.2}, "encoding": {"x": {"datum": 0.88, "type": "quantitative", "axis": null}, "y": {"field": "i", "type": "ordinal", "axis": null}, "color": {"field": "i", "type": "nominal", "scale": {"range": ["#3d5f95","#c8415a","#2f3a2f","#8a2a6e","#e4d866","#333333","#8a2a6e","#9a2f5a","#333333","#8e3a72","#8f2b45","#e8c4d0","#5aa65a","#a9a7b8","#333333","#8a2a6e","#a33558","#3b3b3b","#c8708e","#a8d8d0"]}, "legend": null}}}
      ]}
    ]},
    {"spacing": 0, "hconcat": [
     {"width": 97, "height": 151, "data": {"name": "tfn"}, "view": {"stroke": "#000", "strokeWidth": 2},
      "layer": [
       {"mark": {"type": "rect", "fill": "#fff", "stroke": "#000", "strokeWidth": 1}, "encoding": {"y": {"field": "r", "type": "nominal", "sort": null, "axis": null, "scale": {"paddingInner": 0, "paddingOuter": 0}}}},
       {"mark": {"type": "text", "font": "Liberation Serif", "fontSize": 13.5, "color": "#000"}, "encoding": {"y": {"field": "r", "type": "nominal", "sort": null, "axis": null}, "text": {"field": "r"}}}
      ]},
     {"width": 738, "height": 151, "data": {"name": "tfn"}, "view": {"stroke": "#000", "strokeWidth": 2},
      "transform": [{"fold": ["c1","c2","c3","c4","c5","c6"]}],
      "layer": [
       {"mark": {"type": "rect", "fill": "#fff", "stroke": "#000", "strokeWidth": 1}, "encoding": {"x": {"field": "key", "type": "nominal", "sort": null, "axis": null, "scale": {"paddingInner": 0, "paddingOuter": 0}}, "y": {"field": "r", "type": "nominal", "sort": null, "axis": null, "scale": {"paddingInner": 0, "paddingOuter": 0}}}},
       {"mark": {"type": "text", "font": "Liberation Serif, Noto Sans CJK TC", "color": "#000"}, "encoding": {"x": {"field": "key", "type": "nominal", "sort": null, "axis": null}, "y": {"field": "r", "type": "nominal", "sort": null, "axis": null}, "text": {"field": "value"}, "size": {"condition": {"test": "datum.r === ' '", "value": 14}, "value": 15}}}
      ]}
    ]}
   ]}
 ], "spacing": 88},
 {"hconcat": [
  {"title": {"text": "MIGHTY SEVEN INTERNATIONAL CO., LTD", "subtitle": ["NO.70-25,CHING QUANG.,RD.WU-SHING,41466 TAICHUNG HSIEN,TAIWAN,ROC", "TEL:886-4-23358567\u00a0\u00a0\u00a0\u00a0\u00a0\u00a0\u00a0\u00a0\u00a0\u00a0\u00a0FAX:886-4-23355626"], "anchor": "middle", "frame": "bounds", "dx": -50, "fontSize": 32, "subtitleFontSize": 16, "subtitlePadding": 8, "subtitleLineHeight": 21, "offset": 44},
   "spacing": 33,
   "vconcat": [
    {"spacing": 31, "hconcat": [
     {"width": 46, "height": 20, "data": {"values": [{}]}, "mark": {"type": "text", "text": ""}, "view": {"stroke": null}},
     {"spacing": 51, "vconcat": [
      {"width": 514, "height": 8, "view": {"stroke": null}, "data": {"values": [{"ttl": "NC-4258 TORQUE TEST REPORT REVERSE Lb-ft"}]}, "mark": {"type": "text", "fontSize": 27, "baseline": "middle", "color": "#000"}, "encoding": {"text": {"field": "ttl"}}},
      {"width": 602, "height": 346,
      "resolve": {"axis": {"x": "independent", "y": "independent"}, "scale": {"color": "independent", "size": "independent"}},
      "layer": [
       {"data": {"name": "rl"}, "mark": {"type": "line", "opacity": 0},
        "encoding": {
         "x": {"field": "t", "type": "quantitative", "scale": {"domain": [0, 14], "nice": false}, "axis": {"orient": "top", "values": [0.2,0.4,0.6,0.8,1.2,1.4,1.6,1.8,2.2,2.4,2.6,2.8,3.2,3.4,3.6,3.8,4.2,4.4,4.6,4.8,5.2,5.4,5.6,5.8,6.2,6.4,6.6,6.8,7.2,7.4,7.6,7.8,8.2,8.4,8.6,8.8,9.2,9.4,9.6,9.8,10.2,10.4,10.6,10.8,11.2,11.4,11.6,11.8,12.2,12.4,12.6,12.8,13.2,13.4,13.6,13.8], "labels": false, "ticks": false, "domain": false, "title": null, "grid": true, "gridColor": "#e6e6e6"}},
         "y": {"field": "v", "type": "quantitative", "scale": {"domain": [0, 800], "nice": false}, "axis": {"orient": "right", "values": [20,40,60,80,120,140,160,180,220,240,260,280,320,340,360,380,420,440,460,480,520,540,560,580,620,640,660,680,720,740,760,780], "labels": false, "ticks": false, "domain": false, "title": null, "grid": true, "gridColor": "#e6e6e6"}},
         "detail": {"field": "s"}
        }},
       {"data": {"name": "mkr"}, "mark": {"type": "rule", "strokeDash": [14, 4], "strokeWidth": 1.3},
        "encoding": {
         "x": {"field": "t", "type": "quantitative", "axis": {"orient": "bottom", "values": [0,1,2,3,4,5,6,7,8,9,10,11,12,13,14], "format": ".1f", "labelFontSize": 15, "labelPadding": 5, "tickSize": 5, "grid": true, "gridColor": "#cbcbcb", "title": "Time [ sec ]", "titleFontSize": 15, "titlePadding": 6}},
         "y": {"datum": 0, "type": "quantitative", "axis": {"orient": "left", "values": [0,100,200,300,400,500,600,700,800], "format": ".2f", "labelFontSize": 15, "labelPadding": 4, "tickSize": 5, "grid": true, "gridColor": "#cbcbcb", "title": "Torque [ Lb-ft ]", "titleAngle": 0, "titleAlign": "left", "titleBaseline": "middle", "titleX": -40, "titleY": -20, "titleFontSize": 15}},
         "y2": {"datum": 750},
         "color": {"field": "m", "type": "nominal", "scale": {"domain": ["a","b","c"], "range": ["#3c3c28","#82207c","#c4163c"]}, "legend": null}
        }},
       {"data": {"name": "rl"}, "mark": {"type": "line", "interpolate": "monotone"},
        "encoding": {
         "x": {"field": "t", "type": "quantitative", "axis": null},
         "y": {"field": "v", "type": "quantitative", "axis": null},
         "color": {"field": "s", "type": "nominal", "scale": {"domain": ["1","2","3","4","5"], "range": ["#3464a4","#d42a4a","#2e3f2e","#8e2272","#e3d75a"]}, "legend": null},
         "size": {"field": "s", "type": "nominal", "scale": {"domain": ["1","2","3","4","5"], "range": [1.2,1.4,1.2,1.3,2.4]}, "legend": null}
        }},
       {"data": {"values": [{"cx": 5.1, "cy": 712.497114, "ty": "Y=712.497114", "tx": "X=5.100000"}]},
        "layer": [
         {"mark": {"type": "rule", "strokeDash": [3, 3], "color": "#888", "strokeWidth": 1}, "encoding": {"x": {"field": "cx", "type": "quantitative", "axis": null}}},
         {"mark": {"type": "rule", "strokeDash": [3, 3], "color": "#888", "strokeWidth": 1}, "encoding": {"y": {"field": "cy", "type": "quantitative", "axis": null}}},
         {"mark": {"type": "point", "shape": "square", "size": 40, "filled": false, "color": "#777", "strokeWidth": 1}, "encoding": {"x": {"field": "cx", "type": "quantitative", "axis": null}, "y": {"field": "cy", "type": "quantitative", "axis": null}}},
         {"mark": {"type": "text", "font": "Liberation Serif", "fontSize": 15, "dy": -20, "color": "#000"}, "encoding": {"x": {"datum": 7.5, "axis": null}, "y": {"datum": 800, "axis": null}, "text": {"field": "ty"}}},
         {"mark": {"type": "text", "font": "Liberation Serif", "fontSize": 15, "dy": -20, "color": "#000"}, "encoding": {"x": {"datum": 10.6, "axis": null}, "y": {"datum": 800, "axis": null}, "text": {"field": "tx"}}}
        ]}
      ]}]},
     {"width": 136, "height": 530, "view": {"stroke": "#9a9a9a"},
      "title": {"text": "Files Display", "font": "Liberation Serif", "fontSize": 13, "offset": 5, "anchor": "middle"},
      "layer": [
       {"data": {"values": [{}]}, "mark": {"type": "rect", "fill": null, "stroke": "#333", "strokeWidth": 1.5}, "encoding": {"x": {"datum": 0.78, "type": "quantitative", "scale": {"domain": [0, 1]}, "axis": null}, "x2": {"datum": 0.985}}},
       {"data": {"name": "legend"}, "mark": {"type": "text", "align": "left", "font": "Liberation Serif", "fontSize": 14, "color": "#000"}, "encoding": {"x": {"datum": 0.04, "type": "quantitative", "axis": null}, "y": {"field": "i", "type": "ordinal", "axis": null}, "text": {"field": "lab"}}},
       {"data": {"name": "legend"}, "mark": {"type": "point", "shape": "M -1 0.45 L 0 -0.45 L 1 0.45", "filled": false, "size": 700, "strokeWidth": 1.2}, "encoding": {"x": {"datum": 0.88, "type": "quantitative", "axis": null}, "y": {"field": "i", "type": "ordinal", "axis": null}, "color": {"field": "i", "type": "nominal", "scale": {"range": ["#3d5f95","#c8415a","#2f3a2f","#8a2a6e","#e4d866","#333333","#8a2a6e","#9a2f5a","#333333","#8e3a72","#8f2b45","#e8c4d0","#5aa65a","#a9a7b8","#333333","#8a2a6e","#a33558","#3b3b3b","#c8708e","#a8d8d0"]}, "legend": null}}}
      ]}
    ]},
    {"spacing": 0, "hconcat": [
     {"width": 97, "height": 151, "data": {"name": "trl"}, "view": {"stroke": "#000", "strokeWidth": 2},
      "layer": [
       {"mark": {"type": "rect", "fill": "#fff", "stroke": "#000", "strokeWidth": 1}, "encoding": {"y": {"field": "r", "type": "nominal", "sort": null, "axis": null, "scale": {"paddingInner": 0, "paddingOuter": 0}}}},
       {"mark": {"type": "text", "font": "Liberation Serif", "fontSize": 13.5, "color": "#000"}, "encoding": {"y": {"field": "r", "type": "nominal", "sort": null, "axis": null}, "text": {"field": "r"}}}
      ]},
     {"width": 738, "height": 151, "data": {"name": "trl"}, "view": {"stroke": "#000", "strokeWidth": 2},
      "transform": [{"fold": ["c1","c2","c3","c4","c5","c6"]}],
      "layer": [
       {"mark": {"type": "rect", "fill": "#fff", "stroke": "#000", "strokeWidth": 1}, "encoding": {"x": {"field": "key", "type": "nominal", "sort": null, "axis": null, "scale": {"paddingInner": 0, "paddingOuter": 0}}, "y": {"field": "r", "type": "nominal", "sort": null, "axis": null, "scale": {"paddingInner": 0, "paddingOuter": 0}}}},
       {"mark": {"type": "text", "font": "Liberation Serif, Noto Sans CJK TC", "color": "#000"}, "encoding": {"x": {"field": "key", "type": "nominal", "sort": null, "axis": null}, "y": {"field": "r", "type": "nominal", "sort": null, "axis": null}, "text": {"field": "value"}, "size": {"condition": {"test": "datum.r === ' '", "value": 14}, "value": 15}}}
      ]}
    ]}
   ]},
  {"title": {"text": "MIGHTY SEVEN INTERNATIONAL CO., LTD", "subtitle": ["NO.70-25,CHING QUANG.,RD.WU-SHING,41466 TAICHUNG HSIEN,TAIWAN,ROC", "TEL:886-4-23358567\u00a0\u00a0\u00a0\u00a0\u00a0\u00a0\u00a0\u00a0\u00a0\u00a0\u00a0FAX:886-4-23355626"], "anchor": "middle", "frame": "bounds", "dx": -50, "fontSize": 32, "subtitleFontSize": 16, "subtitlePadding": 8, "subtitleLineHeight": 21, "offset": 44},
   "spacing": 33,
   "vconcat": [
    {"spacing": 31, "hconcat": [
     {"width": 44, "height": 20, "data": {"values": [{}]}, "mark": {"type": "text", "text": ""}, "view": {"stroke": null}},
     {"spacing": 51, "vconcat": [
      {"width": 504, "height": 8, "view": {"stroke": null}, "data": {"values": [{"ttl": "NC-4258 TORQUE TEST REPORT REVERSE N-m"}]}, "mark": {"type": "text", "fontSize": 27, "baseline": "middle", "color": "#000"}, "encoding": {"text": {"field": "ttl"}}},
      {"width": 594, "height": 346,
      "resolve": {"axis": {"x": "independent", "y": "independent"}, "scale": {"color": "independent", "size": "independent"}},
      "layer": [
       {"data": {"name": "rn"}, "mark": {"type": "line", "opacity": 0},
        "encoding": {
         "x": {"field": "t", "type": "quantitative", "scale": {"domain": [0, 14], "nice": false}, "axis": {"orient": "top", "values": [0.2,0.4,0.6,0.8,1.2,1.4,1.6,1.8,2.2,2.4,2.6,2.8,3.2,3.4,3.6,3.8,4.2,4.4,4.6,4.8,5.2,5.4,5.6,5.8,6.2,6.4,6.6,6.8,7.2,7.4,7.6,7.8,8.2,8.4,8.6,8.8,9.2,9.4,9.6,9.8,10.2,10.4,10.6,10.8,11.2,11.4,11.6,11.8,12.2,12.4,12.6,12.8,13.2,13.4,13.6,13.8], "labels": false, "ticks": false, "domain": false, "title": null, "grid": true, "gridColor": "#e6e6e6"}},
         "y": {"field": "v", "type": "quantitative", "scale": {"domain": [0, 1100], "nice": false}, "axis": {"orient": "right", "values": [20,40,60,80,120,140,160,180,220,240,260,280,320,340,360,380,420,440,460,480,520,540,560,580,620,640,660,680,720,740,760,780,820,840,860,880,920,940,960,980,1020,1040,1060,1080], "labels": false, "ticks": false, "domain": false, "title": null, "grid": true, "gridColor": "#e6e6e6"}},
         "detail": {"field": "s"}
        }},
       {"data": {"name": "mkr"}, "mark": {"type": "rule", "strokeDash": [14, 4], "strokeWidth": 1.3},
        "encoding": {
         "x": {"field": "t", "type": "quantitative", "axis": {"orient": "bottom", "values": [0,1,2,3,4,5,6,7,8,9,10,11,12,13,14], "format": ".1f", "labelFontSize": 15, "labelPadding": 5, "tickSize": 5, "grid": true, "gridColor": "#cbcbcb", "title": "Time [ sec ]", "titleFontSize": 15, "titlePadding": 6}},
         "y": {"datum": 0, "type": "quantitative", "axis": {"orient": "left", "values": [0,100,200,300,400,500,600,700,800,900,1000,1100], "format": ".2f", "labelFontSize": 15, "labelPadding": 4, "tickSize": 5, "grid": true, "gridColor": "#cbcbcb", "title": "Torque [ N-m  ]", "titleAngle": 0, "titleAlign": "left", "titleBaseline": "middle", "titleX": -51, "titleY": -20, "titleFontSize": 15}},
         "y2": {"datum": 1010},
         "color": {"field": "m", "type": "nominal", "scale": {"domain": ["a","b","c"], "range": ["#3c3c28","#82207c","#c4163c"]}, "legend": null}
        }},
       {"data": {"name": "rn"}, "mark": {"type": "line", "interpolate": "monotone"},
        "encoding": {
         "x": {"field": "t", "type": "quantitative", "axis": null},
         "y": {"field": "v", "type": "quantitative", "axis": null},
         "color": {"field": "s", "type": "nominal", "scale": {"domain": ["1","2","3","4","5"], "range": ["#3464a4","#d42a4a","#2e3f2e","#8e2272","#e3d75a"]}, "legend": null},
         "size": {"field": "s", "type": "nominal", "scale": {"domain": ["1","2","3","4","5"], "range": [1.2,1.4,1.2,1.3,2.4]}, "legend": null}
        }},
       {"data": {"values": [{"cx": 5.1, "cy": 965.87572, "ty": "Y=965.875720", "tx": "X=5.100000"}]},
        "layer": [
         {"mark": {"type": "rule", "strokeDash": [3, 3], "color": "#888", "strokeWidth": 1}, "encoding": {"x": {"field": "cx", "type": "quantitative", "axis": null}}},
         {"mark": {"type": "rule", "strokeDash": [3, 3], "color": "#888", "strokeWidth": 1}, "encoding": {"y": {"field": "cy", "type": "quantitative", "axis": null}}},
         {"mark": {"type": "point", "shape": "square", "size": 40, "filled": false, "color": "#777", "strokeWidth": 1}, "encoding": {"x": {"field": "cx", "type": "quantitative", "axis": null}, "y": {"field": "cy", "type": "quantitative", "axis": null}}},
         {"mark": {"type": "text", "font": "Liberation Serif", "fontSize": 15, "dy": -20, "color": "#000"}, "encoding": {"x": {"datum": 7.35, "axis": null}, "y": {"datum": 1100, "axis": null}, "text": {"field": "ty"}}},
         {"mark": {"type": "text", "font": "Liberation Serif", "fontSize": 15, "dy": -20, "color": "#000"}, "encoding": {"x": {"datum": 10.6, "axis": null}, "y": {"datum": 1100, "axis": null}, "text": {"field": "tx"}}}
        ]}
      ]}]},
     {"width": 136, "height": 530, "view": {"stroke": "#9a9a9a"},
      "title": {"text": "Files Display", "font": "Liberation Serif", "fontSize": 13, "offset": 5, "anchor": "middle"},
      "layer": [
       {"data": {"values": [{}]}, "mark": {"type": "rect", "fill": null, "stroke": "#333", "strokeWidth": 1.5}, "encoding": {"x": {"datum": 0.78, "type": "quantitative", "scale": {"domain": [0, 1]}, "axis": null}, "x2": {"datum": 0.985}}},
       {"data": {"name": "legend"}, "mark": {"type": "text", "align": "left", "font": "Liberation Serif", "fontSize": 14, "color": "#000"}, "encoding": {"x": {"datum": 0.04, "type": "quantitative", "axis": null}, "y": {"field": "i", "type": "ordinal", "axis": null}, "text": {"field": "lab"}}},
       {"data": {"name": "legend"}, "mark": {"type": "point", "shape": "M -1 0.45 L 0 -0.45 L 1 0.45", "filled": false, "size": 700, "strokeWidth": 1.2}, "encoding": {"x": {"datum": 0.88, "type": "quantitative", "axis": null}, "y": {"field": "i", "type": "ordinal", "axis": null}, "color": {"field": "i", "type": "nominal", "scale": {"range": ["#3d5f95","#c8415a","#2f3a2f","#8a2a6e","#e4d866","#333333","#8a2a6e","#9a2f5a","#333333","#8e3a72","#8f2b45","#e8c4d0","#5aa65a","#a9a7b8","#333333","#8a2a6e","#a33558","#3b3b3b","#c8708e","#a8d8d0"]}, "legend": null}}}
      ]}
    ]},
    {"spacing": 0, "hconcat": [
     {"width": 97, "height": 151, "data": {"name": "trn"}, "view": {"stroke": "#000", "strokeWidth": 2},
      "layer": [
       {"mark": {"type": "rect", "fill": "#fff", "stroke": "#000", "strokeWidth": 1}, "encoding": {"y": {"field": "r", "type": "nominal", "sort": null, "axis": null, "scale": {"paddingInner": 0, "paddingOuter": 0}}}},
       {"mark": {"type": "text", "font": "Liberation Serif", "fontSize": 13.5, "color": "#000"}, "encoding": {"y": {"field": "r", "type": "nominal", "sort": null, "axis": null}, "text": {"field": "r"}}}
      ]},
     {"width": 738, "height": 151, "data": {"name": "trn"}, "view": {"stroke": "#000", "strokeWidth": 2},
      "transform": [{"fold": ["c1","c2","c3","c4","c5","c6"]}],
      "layer": [
       {"mark": {"type": "rect", "fill": "#fff", "stroke": "#000", "strokeWidth": 1}, "encoding": {"x": {"field": "key", "type": "nominal", "sort": null, "axis": null, "scale": {"paddingInner": 0, "paddingOuter": 0}}, "y": {"field": "r", "type": "nominal", "sort": null, "axis": null, "scale": {"paddingInner": 0, "paddingOuter": 0}}}},
       {"mark": {"type": "text", "font": "Liberation Serif, Noto Sans CJK TC", "color": "#000"}, "encoding": {"x": {"field": "key", "type": "nominal", "sort": null, "axis": null}, "y": {"field": "r", "type": "nominal", "sort": null, "axis": null}, "text": {"field": "value"}, "size": {"condition": {"test": "datum.r === ' '", "value": 14}, "value": 15}}}
      ]}
    ]}
   ]}
 ], "spacing": 88}
]
}
